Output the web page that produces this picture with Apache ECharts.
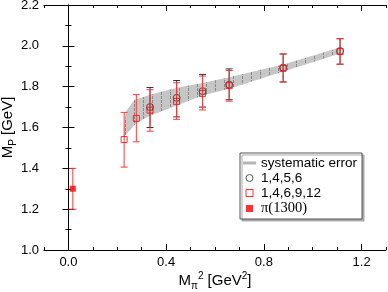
<!DOCTYPE html>
<html><head><meta charset="utf-8">
<script src="https://cdn.jsdelivr.net/npm/echarts@6/dist/echarts.min.js"></script>
<style>html,body{margin:0;padding:0;background:#fff}#c{width:388px;height:292px}</style>
</head><body><div id="c"></div>
<script>
// ---- data ----
const xSet1 = [0.334, 0.443, 0.549, 0.658, 0.879, 1.112];          // 1,4,5,6
const ySet1 = [1.700, 1.745, 1.778, 1.810, 1.893, 1.975];
const loSet1 = [1.600, 1.652, 1.700, 1.736, 1.823, 1.910];
const hiSet1 = [1.796, 1.830, 1.860, 1.887, 1.960, 2.035];
const xSet2 = [0.228, 0.278, 0.334, 0.443, 0.549, 0.658, 0.879, 1.112]; // 1,4,6,9,12
const ySet2 = [1.541, 1.645, 1.685, 1.728, 1.767, 1.805, 1.890, 1.972];
const loSet2 = [1.406, 1.530, 1.582, 1.640, 1.686, 1.729, 1.823, 1.910];
const hiSet2 = [1.674, 1.761, 1.785, 1.819, 1.852, 1.879, 1.960, 2.035];
const xPi = [0.018];                                                  // pi(1300)
const yPi = [1.30];
const loPi = [1.20];
const hiPi = [1.40];
const bandUpperX = [0.228, 0.236, 0.270, 0.334, 0.443, 0.549, 0.658, 0.879, 1.112];
const bandUpperY = [1.600, 1.680, 1.735, 1.760, 1.795, 1.818, 1.846, 1.908, 1.992];
const bandLowerX = [0.228, 0.278, 0.334, 0.443, 0.549, 0.658, 0.879, 1.112];
const bandLowerY = [1.555, 1.622, 1.657, 1.708, 1.757, 1.790, 1.874, 1.962];
const xMajorTicks = [0.0, 0.4, 0.8, 1.2];

const FONT = 'Liberation Sans';
const zip = (a, b) => a.map((v, i) => [v, b[i]]);
const zip3 = (a, b, c) => a.map((v, i) => [v, b[i], c[i]]);

function errBar(color) {
  return function (params, api) {
    const x = api.value(0), lo = api.value(1), hi = api.value(2);
    const p1 = api.coord([x, hi]), p2 = api.coord([x, lo]);
    const w = 3.5;
    const st = { stroke: color, lineWidth: 1 };
    return { type: 'group', children: [
      { type: 'line', shape: { x1: p1[0], y1: p1[1], x2: p2[0], y2: p2[1] }, style: st },
      { type: 'line', shape: { x1: p1[0] - w, y1: p1[1], x2: p1[0] + w, y2: p1[1] }, style: st },
      { type: 'line', shape: { x1: p2[0] - w, y1: p2[1], x2: p2[0] + w, y2: p2[1] }, style: st }
    ]};
  };
}

// hatch pattern for the band
const pc = document.createElement('canvas');
pc.width = 9; pc.height = 4;
const pctx = pc.getContext('2d');
pctx.fillStyle = '#c6c6c6'; pctx.fillRect(0, 0, 9, 4);
pctx.fillStyle = '#8a8a8a'; pctx.fillRect(8, 0, 1, 3);

const chart = echarts.init(document.getElementById('c'), null, { renderer: 'canvas' });

const xBase = {
  type: 'value', min: -0.1, max: 1.3, interval: 0.1, gridIndex: 0,
  splitLine: { show: false },
  axisLine: { show: true, lineStyle: { color: '#000', width: 1 } },
  axisTick: { show: true, inside: true, length: 3, lineStyle: { color: '#000' } },
  axisLabel: { show: false }
};
const yBase = {
  type: 'value', min: 1.0, max: 2.2, interval: 0.2, gridIndex: 0,
  splitLine: { show: false },
  axisLine: { show: true, lineStyle: { color: '#000', width: 1 } },
  axisTick: { show: true, inside: true, length: 6, lineStyle: { color: '#000' } },
  minorTick: { show: true, splitNumber: 2, length: 3, lineStyle: { color: '#000' } },
  axisLabel: { show: false }
};
const majorTick = { show: true, inside: true, length: 6, customValues: xMajorTicks, lineStyle: { color: '#000' } };

chart.setOption({
  animation: false,
  backgroundColor: '#fff',
  textStyle: { fontFamily: FONT },
  grid: { left: 44, right: 2, top: 5, bottom: 42, containLabel: false, outerBoundsMode: 'none' },
  xAxis: [
    Object.assign({}, xBase, {
      position: 'bottom',
      name: '{m|M}{sub|π}{sup|2}{m| [GeV}{sup|2}{m|]}',
      nameLocation: 'middle', nameGap: 21, nameMoveOverlap: false,
      nameTextStyle: { rich: {
        m: { fontSize: 15, fontFamily: FONT, color: '#000', lineHeight: 20 },
        sub: { fontSize: 10, fontFamily: FONT, color: '#000', lineHeight: 9, verticalAlign: 'bottom' },
        sup: { fontSize: 10, fontFamily: FONT, color: '#000', lineHeight: 9, verticalAlign: 'top' }
      } },
      axisLabel: { show: true, customValues: xMajorTicks, formatter: v => v.toFixed(1),
        fontSize: 13, fontFamily: FONT, color: '#000', margin: 6 }
    }),
    Object.assign({}, xBase, { position: 'bottom', axisLine: { show: false }, axisTick: majorTick }),
    Object.assign({}, xBase, { position: 'top' }),
    Object.assign({}, xBase, { position: 'top', axisLine: { show: false }, axisTick: majorTick })
  ],
  yAxis: [
    Object.assign({}, yBase, {
      position: 'left',
      name: '{m|M}{sub|P}{m| [GeV]}',
      nameLocation: 'middle', nameGap: 26, nameMoveOverlap: false,
      nameTextStyle: { rich: {
        m: { fontSize: 15, fontFamily: FONT, color: '#000', lineHeight: 20 },
        sub: { fontSize: 10, fontFamily: FONT, color: '#000', lineHeight: 9, verticalAlign: 'bottom' }
      } },
      axisLabel: { show: true, formatter: v => v.toFixed(1), fontSize: 13, fontFamily: FONT, color: '#000', margin: 5 }
    }),
    Object.assign({}, yBase, { position: 'right' })
  ],
  legend: {
    orient: 'vertical', left: 240, top: 153,
    padding: [3, 5, 3, 3],
    itemWidth: 13, itemHeight: 7, itemGap: 1,
    backgroundColor: '#fff', borderColor: '#555', borderWidth: 1, borderRadius: 0,
    shadowColor: '#aaa', shadowOffsetX: 2, shadowOffsetY: 2, shadowBlur: 0,
    selectedMode: false,
    textStyle: { fontSize: 13.5, fontFamily: FONT, color: '#000',
      rich: { s: { fontSize: 14.5, fontFamily: 'Liberation Serif', color: '#000' } } },
    formatter: n => n === 'π(1300)' ? '{s|π(1300)}' : n,
    data: [
      { name: 'systematic error', icon: 'path://M0,0H13V3H0Z', itemStyle: { color: '#b4b4b4', borderWidth: 0 } },
      { name: '1,4,5,6', icon: 'circle', itemStyle: { color: '#fff', borderColor: '#333', borderWidth: 1 } },
      { name: '1,4,6,9,12', icon: 'path://M0,0H10V10H0Z', itemStyle: { color: '#fff', borderColor: '#f00', borderWidth: 1 } },
      { name: 'π(1300)', icon: 'path://M0,0H10V10H0Z', itemStyle: { color: '#f00', borderWidth: 0 } }
    ]
  },
  series: [
    {
      name: 'systematic error', type: 'custom', xAxisIndex: 0, yAxisIndex: 0,
      data: [[0]],
      renderItem: function (params, api) {
        const pts = [];
        for (let i = 0; i < bandUpperX.length; i++) pts.push(api.coord([bandUpperX[i], bandUpperY[i]]));
        for (let i = bandLowerX.length - 1; i >= 0; i--) pts.push(api.coord([bandLowerX[i], bandLowerY[i]]));
        return { type: 'polygon', shape: { points: pts },
          style: { fill: { image: pc, repeat: 'repeat' }, stroke: null } };
      },
      itemStyle: { color: '#b4b4b4' }, z: 1
    },
    { type: 'custom', xAxisIndex: 0, yAxisIndex: 0, data: zip3(xSet1, loSet1, hiSet1), renderItem: errBar('#333'), z: 2 },
    { name: '1,4,5,6', type: 'scatter', xAxisIndex: 0, yAxisIndex: 0, data: zip(xSet1, ySet1),
      symbol: 'circle', symbolSize: 7, itemStyle: { color: 'rgba(0,0,0,0)', borderColor: '#333', borderWidth: 1 }, z: 3 },
    { type: 'custom', xAxisIndex: 0, yAxisIndex: 0, data: zip3(xSet2, loSet2, hiSet2), renderItem: errBar('#ff3b3b'), z: 4 },
    { name: '1,4,6,9,12', type: 'scatter', xAxisIndex: 0, yAxisIndex: 0, data: zip(xSet2, ySet2),
      symbol: 'rect', symbolSize: 6, itemStyle: { color: 'rgba(0,0,0,0)', borderColor: '#f00', borderWidth: 1 }, z: 5 },
    { type: 'custom', xAxisIndex: 0, yAxisIndex: 0, data: zip3(xPi, loPi, hiPi), renderItem: errBar('#ff3b3b'), z: 4 },
    { name: 'π(1300)', type: 'scatter', xAxisIndex: 0, yAxisIndex: 0, data: zip(xPi, yPi),
      symbol: 'rect', symbolSize: 6, itemStyle: { color: '#f00' }, z: 5 }
  ]
});
</script></body></html>
